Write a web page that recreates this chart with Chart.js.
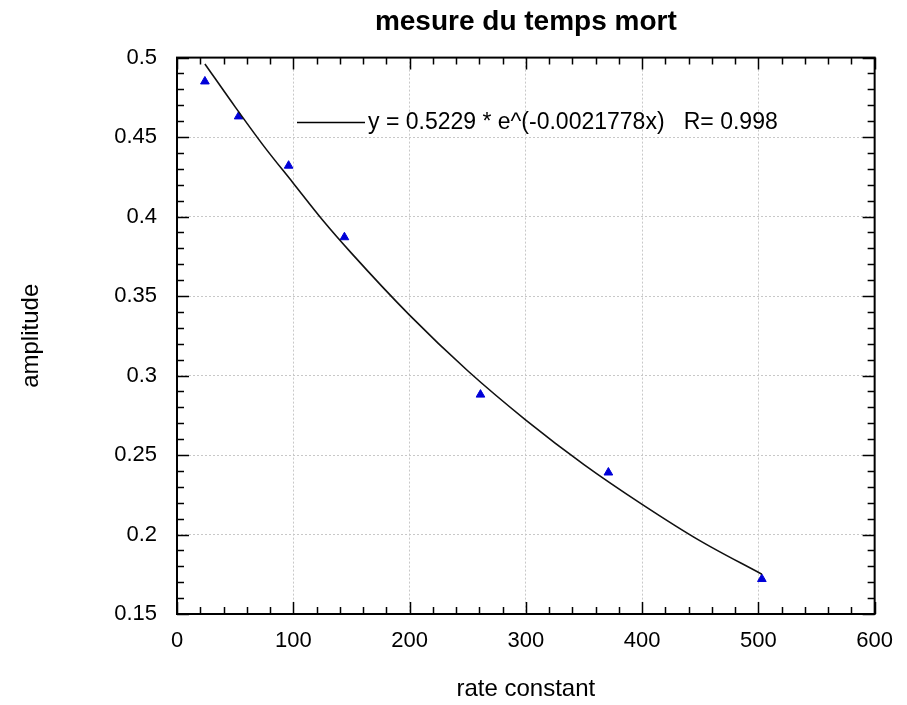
<!DOCTYPE html>
<html>
<head>
<meta charset="utf-8">
<script src="https://cdn.jsdelivr.net/npm/chart.js@4.4.1/dist/chart.umd.min.js"></script>
<style>
    html, body { margin: 0; padding: 0; background: #fff; }
    #wrap { width: 907px; height: 705px; }
</style>
</head>
<body>
<div id="wrap"><canvas id="deadTime"></canvas></div>
<script>
// measured points (blue triangles)
const rateX = [24, 53, 96, 144, 261, 371, 503];
const amplitudeY = [0.485, 0.463, 0.432, 0.387, 0.288, 0.239, 0.172];

// fitted curve
const fitX = [24, 50, 75, 100, 125, 150, 200, 250, 300, 350, 400, 450, 503];
const fitY = [0.496, 0.469, 0.444, 0.421, 0.398, 0.377, 0.338, 0.303, 0.272, 0.244, 0.219, 0.196, 0.175];

const xTicks = [0, 100, 200, 300, 400, 500, 600];
const yTicks = [0.15, 0.2, 0.25, 0.3, 0.35, 0.4, 0.45, 0.5];

const fitLabel = 'y = 0.5229 * e^(-0.0021778x)   R= 0.998';
const FONT = "'Liberation Sans', Arial, sans-serif";

// frame, inward ticks and the little legend inside the plot
const framePlugin = {
    id: 'frame',
    afterDraw(chart) {
        const ctx = chart.ctx;
        const a = chart.chartArea;
        const xs = chart.scales.x;
        const ys = chart.scales.y;
        ctx.save();
        ctx.strokeStyle = '#000';
        ctx.lineWidth = 1.5;
        ctx.beginPath();
        for (let v = 0; v <= 600; v += 20) {
            const px = Math.round(xs.getPixelForValue(v)) + 0.5;
            const len = v % 100 === 0 ? 12 : 7;
            ctx.moveTo(px, a.bottom); ctx.lineTo(px, a.bottom - len);
            ctx.moveTo(px, a.top); ctx.lineTo(px, a.top + len);
        }
        for (let i = 0; i <= 35; i++) {
            const v = 0.15 + i * 0.01;
            const py = Math.round(ys.getPixelForValue(v)) + 0.5;
            const len = i % 5 === 0 ? 12 : 7;
            ctx.moveTo(a.left, py); ctx.lineTo(a.left + len, py);
            ctx.moveTo(a.right, py); ctx.lineTo(a.right - len, py);
        }
        ctx.stroke();
        ctx.lineWidth = 2;
        ctx.strokeRect(a.left, a.top, a.right - a.left, a.bottom - a.top);

        // legend
        const lx = a.left + 120, ly = a.top + 65;
        ctx.lineWidth = 1.5;
        ctx.beginPath();
        ctx.moveTo(lx, ly); ctx.lineTo(lx + 68, ly);
        ctx.stroke();
        ctx.fillStyle = '#000';
        ctx.font = `23px ${FONT}`;
        ctx.textBaseline = 'middle';
        ctx.fillText(fitLabel, lx + 71, ly);
        ctx.restore();
    }
};

const ctx = document.getElementById('deadTime').getContext('2d');
new Chart(ctx, {
    data: {
        datasets: [{
            type: 'line',
            label: fitLabel,
            data: fitX.map((x, i) => ({ x, y: fitY[i] })),
            borderColor: '#111',
            borderWidth: 1.6,
            pointRadius: 0,
            cubicInterpolationMode: 'monotone',
            fill: false
        }, {
            type: 'scatter',
            label: 'data',
            data: rateX.map((x, i) => ({ x, y: amplitudeY[i] })),
            pointStyle: 'triangle',
            pointRadius: 5,
            backgroundColor: '#0000d8',
            borderColor: '#0000d8',
            borderWidth: 1
        }]
    },
    options: {
        responsive: true,
        maintainAspectRatio: false,
        animation: false,
        layout: { padding: { left: 0, right: 31, top: 0, bottom: 0 } },
        plugins: {
            legend: { display: false },
            tooltip: { enabled: false },
            title: {
                display: true,
                text: 'mesure du temps mort',
                fullSize: false,
                color: '#000',
                font: { family: FONT, size: 28, weight: 'bold' },
                padding: { top: 5, bottom: 19 }
            }
        },
        scales: {
            x: {
                type: 'linear',
                min: 0,
                max: 600,
                afterFit: s => { s.height = 91; },
                afterBuildTicks: s => { s.ticks = xTicks.map(v => ({ value: v })); },
                ticks: { color: '#000', padding: 14, font: { family: FONT, size: 22 } },
                grid: { color: '#c8c8c8', lineWidth: 1, drawTicks: false },
                border: { display: false, dash: [2, 2] },
                title: { display: true, text: 'rate constant', color: '#000',
                    font: { family: FONT, size: 24 }, padding: { top: 0, bottom: 1 } }
            },
            y: {
                type: 'linear',
                min: 0.15,
                max: 0.5,
                afterFit: s => { s.width = 177; },
                afterBuildTicks: s => { s.ticks = yTicks.map(v => ({ value: v })); },
                ticks: { color: '#000', padding: 20, font: { family: FONT, size: 22 },
                    callback: v => String(Math.round(v * 100) / 100) },
                grid: { color: '#c8c8c8', lineWidth: 1, drawTicks: false },
                border: { display: false, dash: [2, 2] },
                title: { display: true, text: 'amplitude', color: '#000',
                    font: { family: FONT, size: 24 }, padding: { top: 17, bottom: 0 } }
            }
        }
    },
    plugins: [framePlugin]
});
</script>
</body>
</html>
